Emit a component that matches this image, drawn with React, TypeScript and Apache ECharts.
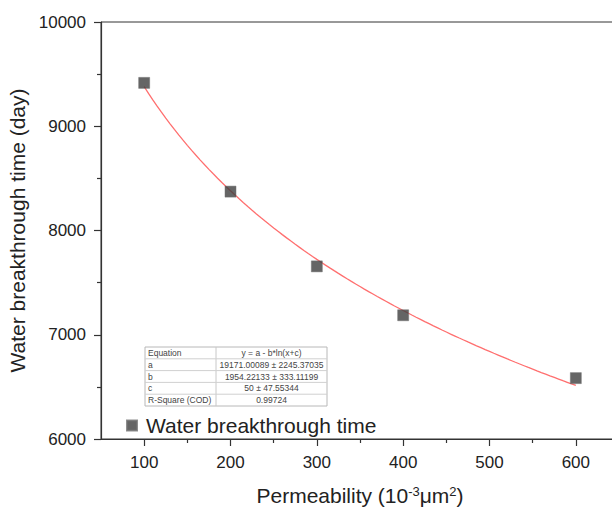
import React, { useEffect, useRef } from "react";
import * as echarts from "echarts";

const permeability = [100, 200, 300, 400, 600];
const breakthroughDays = [9416, 8373, 7656, 7187, 6584];

const fitA = 19171.00089;
const fitB = 1954.22133;
const fitC = 50;
const fitStart = 100;
const fitEnd = 600;

const xMajorTicks = [100, 200, 300, 400, 500, 600];
const xMinorTicks = [150, 250, 350, 450, 550, 650];

const tableLabels = ["Equation", "a", "b", "c", "R-Square (COD)"];
const tableValues = [
  "y = a - b*ln(x+c)",
  "19171.00089 ± 2245.37035",
  "1954.22133 ± 333.11199",
  "50 ± 47.55344",
  "0.99724",
];

const FONT = "'Liberation Sans', Arial, sans-serif";

export default function App() {
  const ref = useRef<HTMLDivElement>(null);

  useEffect(() => {
    if (!ref.current) return;
    const chart = echarts.init(ref.current, undefined, { renderer: "svg" });

    const fitData: number[][] = [];
    for (let x = fitStart; x <= fitEnd; x += 5) {
      fitData.push([x, fitA - fitB * Math.log(x + fitC)]);
    }

    // table
    const tL = 145, tT = 347, tW = 182, rowH = 11.8, split = 71;
    const tableEls: any[] = [];
    tableEls.push({
      type: "rect",
      shape: { x: tL, y: tT, width: tW, height: rowH * tableLabels.length },
      style: { fill: "#fff", stroke: "#b8b8b8", lineWidth: 1 },
    });
    tableEls.push({
      type: "line",
      shape: { x1: tL + split, y1: tT, x2: tL + split, y2: tT + rowH * tableLabels.length },
      style: { stroke: "#c8c8c8", lineWidth: 1 },
    });
    tableLabels.forEach((lab, i) => {
      if (i > 0) {
        tableEls.push({
          type: "line",
          shape: { x1: tL, y1: tT + rowH * i, x2: tL + tW, y2: tT + rowH * i },
          style: { stroke: "#d0d0d0", lineWidth: 1 },
        });
      }
      tableEls.push({
        type: "text",
        x: tL + 3,
        y: tT + rowH * i + rowH / 2,
        style: { text: lab, fontSize: 8.5, fontFamily: FONT, fill: "#444", verticalAlign: "middle", align: "left" },
      });
      tableEls.push({
        type: "text",
        x: tL + split + (tW - split) / 2,
        y: tT + rowH * i + rowH / 2,
        style: { text: tableValues[i], fontSize: 8.5, fontFamily: FONT, fill: "#444", verticalAlign: "middle", align: "center" },
      });
    });

    chart.setOption({
      animation: false,
      backgroundColor: "#fff",
      grid: {
        left: 101,
        top: 22,
        width: 518,
        bottom: 69,
        show: true,
        borderColor: "#333",
        borderWidth: 1,
        backgroundColor: "transparent",
        outerBoundsMode: "none",
        containLabel: false,
      },
      legend: {
        data: ["Water breakthrough time"],
        left: 121,
        top: 410,
        itemWidth: 10,
        itemHeight: 10,
        icon: "rect",
        textStyle: { fontSize: 21, fontFamily: FONT, color: "#222", padding: [0, 0, 0, 4] },
      },
      xAxis: [
        {
          type: "value",
          min: 50,
          max: 650,
          position: "bottom",
          splitLine: { show: false },
          axisLine: { lineStyle: { color: "#333", width: 1.2 } },
          axisTick: { customValues: xMajorTicks, length: 7, lineStyle: { color: "#333", width: 1.2 } },
          axisLabel: { customValues: xMajorTicks, fontSize: 17, fontFamily: FONT, color: "#222", margin: 15 },
          name: "{n|Permeability (10}{s|-3}{n|μm}{s|2}{n|)}",
          nameLocation: "middle",
          nameGap: 46,
          nameTextStyle: {
            rich: {
              n: { fontSize: 21, fontFamily: FONT, color: "#222" },
              s: { fontSize: 13, fontFamily: FONT, color: "#222", verticalAlign: "top", padding: [0, 0, 8, 0] },
            },
          },
        },
        {
          type: "value",
          min: 50,
          max: 650,
          position: "bottom",
          gridIndex: 0,
          splitLine: { show: false },
          axisLine: { show: false },
          axisTick: { customValues: xMinorTicks, length: 4, lineStyle: { color: "#333", width: 1.2 } },
          axisLabel: { show: false },
        },
      ],
      yAxis: {
        type: "value",
        min: 6000,
        max: 10000,
        interval: 1000,
        splitLine: { show: false },
        axisLine: { show: true, lineStyle: { color: "#333", width: 1.2 } },
        axisTick: { show: true, length: 7, lineStyle: { color: "#333", width: 1.2 } },
        minorTick: { show: true, splitNumber: 2, length: 4, lineStyle: { color: "#333", width: 1.2 } },
        axisLabel: { fontSize: 17, fontFamily: FONT, color: "#222", margin: 15, formatter: (v: number) => String(v) },
        name: "Water breakthrough time (day)",
        nameLocation: "middle",
        nameGap: 60,
        nameTextStyle: { fontSize: 21, fontFamily: FONT, color: "#222" },
      },
      series: [
        {
          name: "Fit",
          type: "line",
          data: fitData,
          showSymbol: false,
          symbol: "none",
          smooth: false,
          lineStyle: { color: "#ff6f6f", width: 1.3 },
          z: 2,
        },
        {
          name: "Water breakthrough time",
          type: "scatter",
          data: permeability.map((x, i) => [x, breakthroughDays[i]]),
          symbol: "rect",
          symbolSize: 11,
          itemStyle: { color: "#3f3f3f", borderColor: "#707070", borderWidth: 0.6 },
          z: 3,
        },
      ],
      graphic: tableEls,
    });

    return () => chart.dispose();
  }, []);

  return (
    <div
      ref={ref}
      style={{ position: "fixed", left: 0, top: 0, width: 612, height: 508, overflow: "hidden" }}
    />
  );
}
